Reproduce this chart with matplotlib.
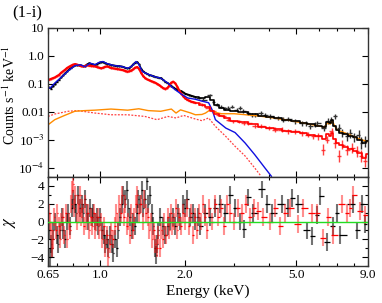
import numpy as np
import matplotlib
matplotlib.use("Agg")
import matplotlib.pyplot as plt
from matplotlib.ticker import FixedLocator, FixedFormatter, NullFormatter

plt.rcParams['font.family'] = ['Liberation Serif', 'DejaVu Serif']
plt.rcParams['mathtext.fontset'] = 'stix'

# ===== Spectrum data =====
# dense low-energy bins, shared by both data sets
lo_e = [0.655, 0.666, 0.677, 0.688, 0.700, 0.712, 0.724, 0.735, 0.748, 0.760,
        0.773, 0.786, 0.799, 0.812, 0.825, 0.839, 0.853, 0.867, 0.881, 0.896,
        0.911, 0.926, 0.941, 0.957, 0.973, 0.989, 1.005, 1.022, 1.039, 1.056,
        1.073, 1.091, 1.110, 1.128, 1.147, 1.166, 1.185, 1.204, 1.225, 1.245,
        1.266, 1.287, 1.308, 1.329, 1.352, 1.374, 1.396, 1.420, 1.444, 1.467,
        1.492, 1.516, 1.541, 1.567, 1.593, 1.620, 1.646, 1.674, 1.701, 1.730,
        1.758, 1.788, 1.817, 1.847, 1.878, 1.909, 1.941, 1.973, 2.005, 2.039,
        2.072, 2.107, 2.142, 2.177]
blk_lo = [0.075, 0.068, 0.085, 0.10, 0.12, 0.14, 0.17, 0.20, 0.24, 0.28,
          0.33, 0.38, 0.43, 0.46, 0.47, 0.48, 0.46, 0.43, 0.44, 0.50,
          0.55, 0.52, 0.50, 0.48, 0.52, 0.57, 0.60, 0.60, 0.56, 0.52,
          0.50, 0.48, 0.46, 0.45, 0.44, 0.43, 0.42, 0.41, 0.38, 0.36,
          0.37, 0.42, 0.50, 0.58, 0.60, 0.50, 0.35, 0.28, 0.25, 0.23,
          0.21, 0.20, 0.19, 0.18, 0.17, 0.165, 0.16, 0.14, 0.12, 0.11,
          0.10, 0.085, 0.075, 0.068, 0.062, 0.058, 0.055, 0.050, 0.045, 0.042,
          0.040, 0.038, 0.036, 0.034]
red_lo = [0.14, 0.15, 0.16, 0.17, 0.19, 0.21, 0.25, 0.28, 0.32, 0.37,
          0.41, 0.45, 0.49, 0.51, 0.49, 0.46, 0.43, 0.42, 0.44, 0.46,
          0.45, 0.44, 0.43, 0.42, 0.40, 0.38, 0.36, 0.38, 0.41, 0.42,
          0.40, 0.37, 0.36, 0.35, 0.34, 0.33, 0.32, 0.31, 0.29, 0.275,
          0.28, 0.30, 0.33, 0.38, 0.40, 0.34, 0.25, 0.19, 0.16, 0.145,
          0.135, 0.125, 0.118, 0.11, 0.10, 0.09, 0.08, 0.07, 0.066, 0.07,
          0.085, 0.11, 0.12, 0.105, 0.08, 0.058, 0.045, 0.036, 0.030, 0.027,
          0.025, 0.023, 0.022, 0.021]
LO_ERR = 0.06

blk_hi_e = [2.24, 2.33, 2.46, 2.53, 2.60, 2.68, 2.79, 2.86, 2.94, 3.06,
            3.15, 3.23, 3.37, 3.47, 3.57, 3.74, 3.87, 4.04, 4.31, 4.49,
            4.68, 4.95, 5.23, 5.42, 5.61, 5.81, 5.94, 6.29, 6.50, 6.63,
            6.88, 7.08, 7.29, 7.60, 7.79, 8.00, 8.33, 8.53, 8.81]
blk_hi = [0.031, 0.027, 0.040, 0.023, 0.018, 0.0154, 0.0135, 0.0135, 0.0154, 0.0118,
          0.0135, 0.0104, 0.0090, 0.0078, 0.0078, 0.0090, 0.0078, 0.0068, 0.0060, 0.0052,
          0.0055, 0.0045, 0.0039, 0.0039, 0.0030, 0.0035, 0.0039, 0.0026, 0.0045, 0.0052,
          0.0068, 0.0026, 0.0017, 0.0013, 0.0017, 0.0012, 0.0015, 7.6e-4, 8.7e-4]
blk_hi_err = [0.12, 0.12, 0.12, 0.13, 0.13, 0.14, 0.14, 0.15, 0.15, 0.15,
              0.16, 0.16, 0.17, 0.17, 0.18, 0.18, 0.18, 0.19, 0.19, 0.20,
              0.20, 0.20, 0.22, 0.22, 0.24, 0.24, 0.24, 0.30, 0.28, 0.28,
              0.25, 0.35, 0.40, 0.45, 0.45, 0.50, 0.50, 0.60, 0.60]

red_hi_e = [2.25, 2.30, 2.43, 2.53, 2.64, 2.75, 2.86, 2.98, 3.11, 3.24,
            3.37, 3.57, 3.74, 3.98, 4.20, 4.43, 4.68, 4.95, 5.23, 5.52,
            5.75, 5.99, 6.24, 6.41, 6.67, 6.88, 7.08, 7.29, 7.60, 7.92,
            8.25, 8.53, 8.81]
red_hi = [0.020, 0.0178, 0.0135, 0.0103, 0.0078, 0.0068, 0.0052, 0.0045, 0.0045, 0.0039,
          0.0039, 0.0030, 0.0030, 0.0026, 0.0023, 0.0023, 0.0020, 0.0020, 0.0017, 0.0015,
          0.0013, 0.0013, 4.4e-4, 0.0010, 0.0020, 7.6e-4, 2.6e-4, 6.6e-4, 4.4e-4, 5.0e-4,
          3.8e-4, 2.6e-4, 1.7e-4]
red_hi_err = [0.12, 0.12, 0.13, 0.13, 0.14, 0.14, 0.15, 0.16, 0.16, 0.17,
              0.17, 0.18, 0.18, 0.19, 0.20, 0.20, 0.21, 0.22, 0.23, 0.25,
              0.28, 0.30, 0.60, 0.35, 0.30, 0.45, 0.70, 0.45, 0.50, 0.50,
              0.55, 0.60, 0.60]

# ===== Model components =====
blue_e = [0.65, 0.661, 0.687, 0.728, 0.767, 0.811, 0.848, 0.88, 0.92, 0.955,
          0.99, 1.02, 1.06, 1.12, 1.19, 1.25, 1.29, 1.34, 1.37, 1.41,
          1.48, 1.56, 1.64, 1.74, 1.83, 1.94, 2.05, 2.18, 2.30, 2.43,
          2.50, 2.57, 2.80, 3.02, 3.28, 3.55, 3.86, 4.07]
blue_m = [0.078, 0.070, 0.106, 0.18, 0.29, 0.45, 0.48, 0.41, 0.55, 0.48,
          0.59, 0.63, 0.52, 0.45, 0.42, 0.36, 0.42, 0.63, 0.50, 0.275,
          0.22, 0.18, 0.16, 0.106, 0.066, 0.043, 0.031, 0.028, 0.024, 0.021,
          0.012, 0.0052, 0.0026, 0.0018, 7.6e-4, 2.9e-4, 9.7e-5, 4.9e-5]

orange_e = [0.65, 0.687, 0.745, 0.81, 0.88, 0.955, 1.09, 1.25, 1.37, 1.48,
            1.64, 1.79, 1.86, 1.93, 2.1, 2.18, 2.3, 2.37, 2.47, 2.57,
            2.7, 3.0, 3.3, 3.6, 4.0, 4.5, 5.0, 5.5, 6.0, 6.3,
            6.45, 6.6, 6.7, 6.85, 7.0, 7.5, 8.0, 8.5, 9.0]
orange_m = [0.0034, 0.0052, 0.0074, 0.0104, 0.011, 0.0114, 0.0125, 0.0114, 0.0128, 0.011,
            0.0104, 0.0125, 0.009, 0.0117, 0.009, 0.0078, 0.0080, 0.009, 0.012, 0.0095,
            0.0085, 0.0085, 0.0078, 0.0072, 0.0063, 0.0053, 0.0044, 0.0037, 0.0031, 0.0028,
            0.0040, 0.0036, 0.0050, 0.0030, 0.0022, 0.0017, 0.0013, 0.0010, 8.5e-4]

rdot_e = [0.65, 0.687, 0.767, 0.83, 0.955, 1.09, 1.25, 1.44, 1.59, 1.74,
          1.86, 1.98, 2.18, 2.30, 2.43, 2.57, 2.8, 3.02, 3.28, 3.55, 3.74]
rdot_m = [0.0068, 0.0083, 0.0104, 0.011, 0.009, 0.0078, 0.0078, 0.0068, 0.0052, 0.0068,
          0.006, 0.0074, 0.0055, 0.0048, 0.006, 0.003, 0.0013, 5.8e-4, 2.6e-4, 9.7e-5, 4.9e-5]

step_e = [2.2, 2.3, 2.4, 2.5, 2.6, 2.7, 2.8, 3.0, 3.2, 3.5,
          3.8, 4.0, 4.3, 4.6, 5.0, 5.3, 5.6, 6.0, 6.3, 6.45,
          6.6, 6.7, 6.85, 7.0, 7.2, 7.5, 7.8, 8.1, 8.4, 8.7, 9.0]
blk_model = [0.034, 0.030, 0.033, 0.026, 0.018, 0.014, 0.012, 0.0105, 0.0095, 0.0082,
             0.0072, 0.0066, 0.0058, 0.0052, 0.0045, 0.0040, 0.0035, 0.0030, 0.0028, 0.0042,
             0.0038, 0.0052, 0.0032, 0.0022, 0.0018, 0.0016, 0.0014, 0.0012, 0.0010, 7.5e-4, 9e-4]
red_model = [0.020, 0.017, 0.015, 0.011, 0.0085, 0.0068, 0.0058, 0.0048, 0.0042, 0.0035,
             0.0029, 0.0027, 0.0024, 0.0021, 0.0019, 0.0017, 0.0015, 0.0013, 0.0011, 0.0016,
             0.0014, 0.0018, 0.0011, 7.5e-4, 6.5e-4, 5.5e-4, 4.6e-4, 4.0e-4, 3.2e-4, 2.2e-4, 3e-4]

# ===== Residuals (chi) =====
blk_res_e = [0.655, 0.661, 0.666, 0.672, 0.677, 0.688, 0.700, 0.706, 0.718, 0.729,
             0.735, 0.748, 0.760, 0.766, 0.779, 0.792, 0.799, 0.812, 0.818, 0.832,
             0.846, 0.860, 0.867, 0.881, 0.896, 0.903, 0.918, 0.933, 0.941, 0.957,
             0.973, 0.981, 0.997, 1.014, 1.030, 1.039, 1.056, 1.065, 1.082, 1.100,
             1.110, 1.128, 1.147, 1.156, 1.175, 1.195, 1.204, 1.225, 1.245, 1.255,
             1.276, 1.297, 1.308, 1.329, 1.352, 1.362, 1.385, 1.408, 1.420, 1.444,
             1.467, 1.479, 1.504, 1.529, 1.541, 1.567, 1.580, 1.593, 1.606, 1.633,
             1.674, 1.701, 1.744, 1.773, 1.817, 1.847, 1.893, 1.925, 1.973, 2.005,
             2.039, 2.090, 2.142, 2.177, 2.232, 2.269, 2.364, 2.464, 2.567, 2.675,
             2.787, 2.903, 3.026, 3.152, 3.258, 3.367, 3.507, 3.778, 3.936, 4.102,
             4.454, 4.678, 4.835, 5.079, 5.469, 5.699, 5.938, 6.086, 6.447, 6.77,
             7.00, 7.17, 7.98, 8.25, 8.60, 8.81]
blk_chi = [-1, -4, -2.5, -3, -1, 0, -1.5, -2.5, -1, 0.5,
           -1, -2, 0, 1, -0.5, 1.5, 2.5, 2, 1, 3,
           1.5, 2, 1, 2.5, 1, 0, 1.5, 0.5, 1, 0,
           0.5, -0.5, 0.5, -1, -1.5, -2.5, -2, -3, -1.5, -2.5,
           -3.5, -2, -3, -1, 0.5, 2, 3, 2.5, 3.5, 1.5,
           0.5, -1, 0, -0.5, 1, 2.5, 2, 3.5, 1.5, 2.5,
           4.5, 2, 3, 1, -0.5, -3, -3.8, -2.5, -1, 0.5,
           -0.5, -1.5, -0.5, 0, 0.5, -0.5, 1, 0, 2, 1.5,
           2.5, 0.5, 1, 0, 0.5, -0.5, 1, 0.5, 1.5, 2,
           1, 3, 1.5, 0, -0.8, 2.7, 1, 3.6, 2, 1,
           2, 1.5, 2.6, 2, -1, -1.6, 0.7, 2.9, -2.3, -0.5,
           1, -1.5, 2, -1, 2, -0.3]

red_res_e = [0.655, 0.661, 0.666, 0.672, 0.677, 0.683, 0.694, 0.700, 0.712, 0.718,
             0.724, 0.735, 0.742, 0.754, 0.760, 0.773, 0.779, 0.786, 0.792, 0.799,
             0.805, 0.812, 0.825, 0.832, 0.839, 0.846, 0.853, 0.860, 0.874, 0.881,
             0.889, 0.903, 0.911, 0.926, 0.933, 0.949, 0.957, 0.965, 0.981, 0.989,
             1.005, 1.014, 1.030, 1.039, 1.056, 1.065, 1.082, 1.091, 1.110, 1.128,
             1.137, 1.156, 1.166, 1.185, 1.195, 1.214, 1.225, 1.245, 1.255, 1.276,
             1.287, 1.308, 1.319, 1.341, 1.352, 1.374, 1.396, 1.420, 1.432, 1.455,
             1.479, 1.492, 1.516, 1.529, 1.554, 1.567, 1.593, 1.606, 1.633, 1.646,
             1.674, 1.687, 1.715, 1.744, 1.758, 1.788, 1.802, 1.832, 1.863, 1.878,
             1.909, 1.941, 1.973, 2.005, 2.039, 2.072, 2.107, 2.142, 2.177, 2.214,
             2.250, 2.288, 2.325, 2.364, 2.403, 2.443, 2.505, 2.567, 2.631, 2.697,
             2.764, 2.833, 2.903, 2.999, 3.101, 3.204, 3.312, 3.422, 3.537, 3.655,
             3.809, 4.035, 4.204, 4.381, 4.565, 4.756, 5.079, 5.292, 5.699, 5.938,
             6.238, 6.5, 6.77, 7.29, 7.60, 7.79, 7.98, 8.46, 8.81]
red_chi = [1, 0, -1, -3, -2, 0.5, -1, 1, -0.5, -2,
           0, 0.5, -1.5, 1, -2, 0, -1, 2, 3.5, 4.2,
           1.5, 3, 0, 2, 1, 3, 0.5, 1.5, -0.5, 2,
           0, 1, -1, 0.5, -0.5, 1, -1, 0, 0.5, -1,
           0, -2, -0.5, -3, -1.5, -4, -2.5, -1, -2, -0.5,
           1, 0, 2, 1, 3, 0.5, 2, -0.5, 0, -1.5,
           1, -1, 0.5, 2, 3, 1, 2, 0, 2.5, 1,
           0.5, -1, 0, -2, -1, -2.5, -3, -1.5, -3, -1,
           -2, 0, -1.5, 0.5, -1, 1, -0.5, 0, 1.5, -1,
           0.5, -0.5, 1, 0, 1.5, -0.5, 1, -1.5, 0.5, -1,
           1, 0, 2, 0.5, -1, 1.5, 0, 2, 0.5, 1.5,
           -0.5, 2, 1, 0, 1.5, 1, 2, 0.5, 1.5, 1.2,
           0.5, 0, 1.5, -0.5, 1, 1.5, -0.3, 1.5, 1, 1,
           -1.8, 0.5, -1.5, 2, 1, 1.5, 3, 1.2, 0.7]


def half_bins(e):
    e = np.asarray(e, dtype=float)
    mid = np.sqrt(e[1:] * e[:-1])
    lo = np.concatenate([[e[0] ** 2 / mid[0]], mid])
    hi = np.concatenate([mid, [e[-1] ** 2 / mid[-1]]])
    return np.vstack([e - lo, hi - e])


def log_err(y, frac):
    y = np.asarray(y, dtype=float)
    frac = np.asarray(frac, dtype=float)
    return np.vstack([y - y / (1 + frac), y * frac])


fig = plt.figure(figsize=(3.82, 3.03), dpi=100)
ax1 = fig.add_axes([0.1257, 0.4158, 0.8377, 0.4918])
ax2 = fig.add_axes([0.1257, 0.1221, 0.8377, 0.2937])

# ----- top panel -----
ax1.errorbar(lo_e, blk_lo, xerr=half_bins(lo_e), yerr=log_err(blk_lo, LO_ERR),
             fmt='none', ecolor='black', elinewidth=1.0)
ax1.plot(lo_e, blk_lo, color='black', lw=1.2)
ax1.errorbar(lo_e, red_lo, xerr=half_bins(lo_e), yerr=log_err(red_lo, LO_ERR),
             fmt='none', ecolor='#ff2020', elinewidth=1.0, alpha=0.8)
ax1.plot(lo_e, red_lo, color='red', lw=1.6)

ax1.errorbar(blk_hi_e, blk_hi, xerr=half_bins(blk_hi_e), yerr=log_err(blk_hi, blk_hi_err),
             fmt='none', ecolor='#333333', elinewidth=1.0)
ax1.errorbar(red_hi_e, red_hi, xerr=half_bins(red_hi_e), yerr=log_err(red_hi, red_hi_err),
             fmt='none', ecolor='#ff2020', elinewidth=1.0, alpha=0.85)

ax1.plot(rdot_e, rdot_m, color='#ff4040', lw=0.9, ls=(0, (1.5, 1.2)))
ax1.plot(orange_e, orange_m, color='#ff8c00', lw=1.0)
ax1.plot(blue_e, blue_m, color='#1010e0', lw=1.0)
ax1.step(step_e, red_model, where='mid', color='red', lw=1.2)
ax1.step(step_e, blk_model, where='mid', color='black', lw=1.2)

ax1.set_xscale('log')
ax1.set_yscale('log')
ax1.set_xlim(0.65, 9.0)
ax1.set_ylim(4.6e-5, 10)
ax1.yaxis.set_major_locator(FixedLocator([1e-4, 1e-3, 1e-2, 0.1, 1, 10]))
ax1.yaxis.set_major_formatter(FixedFormatter(['10$^{-4}$', '10$^{-3}$', '0.01', '0.1', '1.0', '10']))
ax1.set_ylabel('Counts s$^{-1}$ keV$^{-1}$', fontsize=10)
ax1.yaxis.set_label_coords(-0.094, 0.55)

# ----- residual panel -----
ax2.axhline(0, color='#22dd22', lw=1.0, zorder=5)
ax2.errorbar(blk_res_e, blk_chi, yerr=1, fmt='none', ecolor='black',
             elinewidth=1.5, alpha=0.55)
ax2.errorbar(blk_res_e, blk_chi, xerr=half_bins(blk_res_e), fmt='none',
             ecolor='black', elinewidth=0.9)
ax2.errorbar(red_res_e, red_chi, yerr=1, fmt='none', ecolor='#ff2020',
             elinewidth=1.5, alpha=0.5)
ax2.errorbar(red_res_e, red_chi, xerr=half_bins(red_res_e), fmt='none',
             ecolor='red', elinewidth=0.9)

ax2.set_xscale('log')
ax2.set_xlim(0.65, 9.0)
ax2.set_ylim(-5, 5)
ax2.set_yticks([-4, -2, 0, 2, 4])
ax2.set_yticks([-5, -3, -1, 1, 3, 5], minor=True)
ax2.set_ylabel('$\\chi$', fontsize=12)
ax2.yaxis.set_label_coords(-0.094, 0.5)
ax2.set_xlabel('Energy (keV)', fontsize=11, labelpad=2)

for ax in (ax1, ax2):
    ax.xaxis.set_major_locator(FixedLocator([0.65, 1.0, 2.0, 5.0, 9.0]))
    ax.xaxis.set_minor_locator(FixedLocator([0.7, 0.8, 0.9, 3, 4, 6, 7, 8]))
    ax.xaxis.set_minor_formatter(NullFormatter())
    ax.tick_params(which='both', direction='in', top=True, right=True,
                   labelsize=9.5, width=0.8, pad=2.5)
    ax.tick_params(which='major', length=4)
    ax.tick_params(which='minor', length=2)
    for s in ax.spines.values():
        s.set_linewidth(1.0)
        s.set_color('#333333')

ax1.xaxis.set_major_formatter(NullFormatter())
ax2.xaxis.set_major_formatter(FixedFormatter(['0.65', '1.0', '2.0', '5.0', '9.0']))

fig.text(0.033, 0.955, '(1-i)', fontsize=12, va='center')

fig.savefig('out.png', dpi=100)
